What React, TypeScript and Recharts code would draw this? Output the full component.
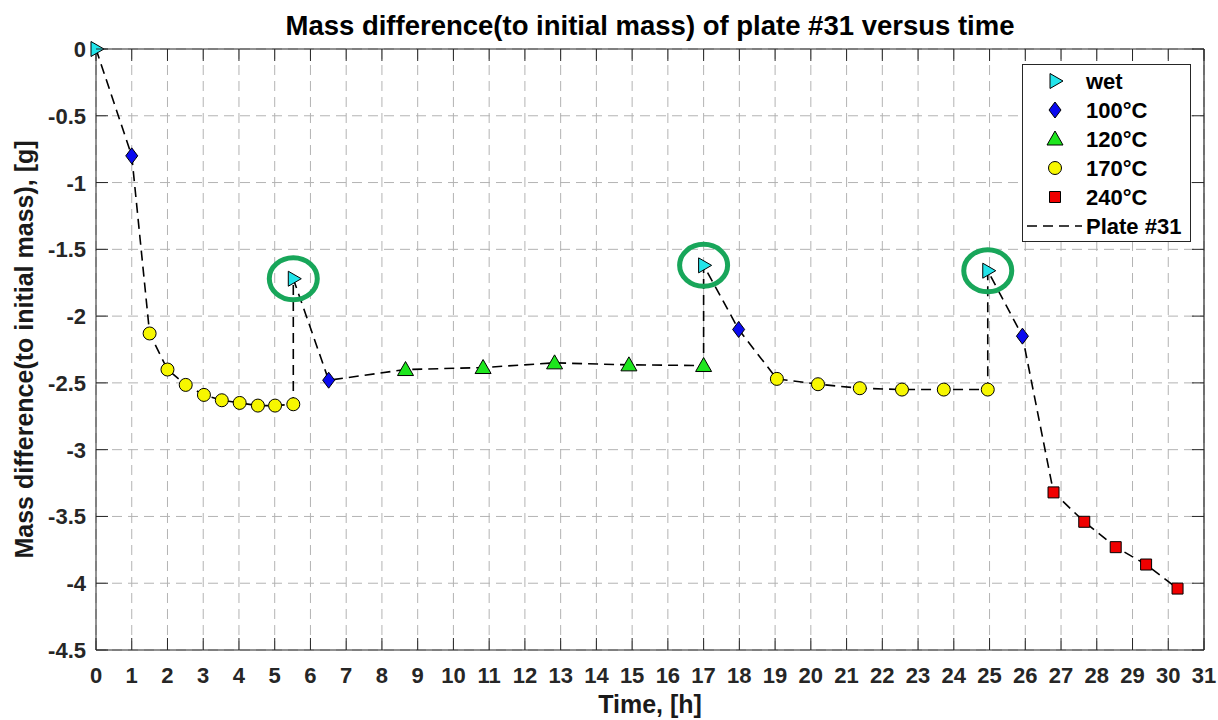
import React from 'react';
import { ComposedChart, Line, Scatter, XAxis, YAxis, CartesianGrid, Legend, ReferenceLine, ReferenceDot } from 'recharts';

// measured mass difference [g] vs time [h], grouped by drying state
const wetTime = [0, 5.52, 17.0, 24.95];
const wetMass = [0, -1.72, -1.62, -1.66];

const t100Time = [1.0, 6.51, 17.98, 25.92];
const t100Mass = [-0.8, -2.48, -2.1, -2.15];

const t120Time = [8.66, 10.83, 12.83, 14.91, 17.0];
const t120Mass = [-2.4, -2.385, -2.35, -2.365, -2.37];

const t170Time = [1.5, 2.0, 2.51, 3.02, 3.52, 4.02, 4.53, 5.01, 5.52, 19.05, 20.2, 21.37, 22.55, 23.72, 24.95];
const t170Mass = [-2.13, -2.4, -2.515, -2.59, -2.63, -2.65, -2.67, -2.67, -2.66, -2.47, -2.51, -2.54, -2.55, -2.55, -2.55];

const t240Time = [26.79, 27.65, 28.53, 29.38, 30.26];
const t240Mass = [-3.32, -3.54, -3.73, -3.86, -4.04];

const xTicks = [0, 1, 2, 3, 4, 5, 6, 7, 8, 9, 10, 11, 12, 13, 14, 15, 16, 17, 18, 19, 20, 21, 22, 23, 24, 25, 26, 27, 28, 29, 30, 31];
const yTicks = [0, -0.5, -1, -1.5, -2, -2.5, -3, -3.5, -4, -4.5];
const xDomain = [0, 31];
const yDomain = [-4.5, 0];

const FONT = '"Liberation Sans", Arial, Helvetica, sans-serif';
const AXIS = '#262626';
const TICK_LEN = 12;

type Shape = 'right' | 'diamond' | 'up' | 'circle' | 'square';

const series: { key: string; label: string; time: number[]; mass: number[]; color: string; shape: Shape }[] = [
  { key: 'wet', label: 'wet', time: wetTime, mass: wetMass, color: '#22e4ea', shape: 'right' },
  { key: 't100', label: '100°C', time: t100Time, mass: t100Mass, color: '#0a0af0', shape: 'diamond' },
  { key: 't120', label: '120°C', time: t120Time, mass: t120Mass, color: '#1ee61e', shape: 'up' },
  { key: 't170', label: '170°C', time: t170Time, mass: t170Mass, color: '#f7f700', shape: 'circle' },
  { key: 't240', label: '240°C', time: t240Time, mass: t240Mass, color: '#f00000', shape: 'square' },
];

const toPoints = (time: number[], mass: number[]) => time.map((t, i) => ({ t, m: mass[i] }));

// measurement order: at equal times the wet reading comes after the dried one
const linePoints = series
  .flatMap(s => s.time.map((t, i) => ({ t, m: s.mass[i], order: s.key === 'wet' ? 1 : 0 })))
  .sort((a, b) => a.t - b.t || a.order - b.order);

// re-wetted points are circled in the figure
const circled = toPoints(wetTime.slice(1), wetMass.slice(1));

const markerPath = (shape: Shape, cx: number, cy: number) => {
  switch (shape) {
    case 'right':
      return `M${cx - 5},${cy - 7.5}L${cx + 8},${cy}L${cx - 5},${cy + 7.5}Z`;
    case 'diamond':
      return `M${cx},${cy - 8}L${cx + 6},${cy}L${cx},${cy + 8}L${cx - 6},${cy}Z`;
    case 'up':
      return `M${cx - 8},${cy + 6}L${cx},${cy - 8}L${cx + 8},${cy + 6}Z`;
    case 'square':
      return `M${cx - 5.5},${cy - 5.5}h11v11h-11Z`;
    default:
      return '';
  }
};

const Marker = ({ cx, cy, shape, color }: { cx: number; cy: number; shape: Shape; color: string }) =>
  shape === 'circle' ? (
    <circle cx={cx} cy={cy} r={6.5} fill={color} stroke="#000" strokeWidth={1} />
  ) : (
    <path d={markerPath(shape, cx, cy)} fill={color} stroke="#000" strokeWidth={1} />
  );

const BottomTick = ({ x, y, payload }: any) => (
  <g>
    <line x1={x} y1={y} x2={x} y2={y - TICK_LEN} stroke={AXIS} strokeWidth={1} />
    <text x={x} y={y + 33} textAnchor="middle" fill={AXIS} fontSize={22} fontWeight="bold" fontFamily={FONT}>
      {payload.value}
    </text>
  </g>
);

const LeftTick = ({ x, y, payload }: any) => (
  <g>
    <line x1={x} y1={y} x2={x + TICK_LEN} y2={y} stroke={AXIS} strokeWidth={1} />
    <text x={x - 10} y={y + 8} textAnchor="end" fill={AXIS} fontSize={22} fontWeight="bold" fontFamily={FONT}>
      {payload.value}
    </text>
  </g>
);

const LegendBox = () => (
  <svg width={170} height={179} style={{ display: 'block' }}>
    <rect x={0.5} y={0.5} width={168} height={177} fill="#fff" stroke={AXIS} strokeWidth={1} />
    {series.map((s, i) => (
      <g key={s.key}>
        <Marker cx={33} cy={17 + i * 29} shape={s.shape} color={s.color} />
        <text x={64} y={25 + i * 29} fontSize={22} fontWeight="bold" fontFamily={FONT} fill="#000">
          {s.label}
        </text>
      </g>
    ))}
    <line x1={5} y1={162} x2={60} y2={162} stroke="#000" strokeWidth={1.6} strokeDasharray="10 6" />
    <text x={64} y={170} fontSize={22} fontWeight="bold" fontFamily={FONT} fill="#000">
      Plate #31
    </text>
  </svg>
);

export default function App() {
  return (
    <div style={{ position: 'relative', width: 1218, height: 720, background: '#fff' }}>
      <style>{'body{margin:0;background:#fff}'}</style>
      <div
        style={{
          position: 'absolute',
          top: 11,
          left: 96,
          width: 1108,
          textAlign: 'center',
          fontFamily: FONT,
          fontSize: 27.5,
          fontWeight: 'bold',
          lineHeight: '30px',
          color: '#000',
          zIndex: 2,
        }}
      >
        Mass difference(to initial mass) of plate #31 versus time
      </div>
      <ComposedChart width={1218} height={720} data={linePoints} margin={{ top: 49, right: 14, bottom: 0, left: 0 }}>
        <CartesianGrid stroke="#b3b3b3" strokeDasharray="10 6" strokeWidth={1} />
        <XAxis
          dataKey="t"
          type="number"
          domain={xDomain}
          ticks={xTicks}
          interval={0}
          height={70}
          stroke={AXIS}
          tickLine={false}
          tickSize={0}
          tickMargin={0}
          tick={<BottomTick />}
          label={{
            content: ({ viewBox }: any) => (
              <text x={viewBox.x + viewBox.width / 2} y={viewBox.y + 63} textAnchor="middle" fontSize={25} fontWeight="bold" fontFamily={FONT} fill="#1a1a1a">
                Time, [h]
              </text>
            ),
          }}
        />
        <YAxis
          dataKey="m"
          type="number"
          domain={yDomain}
          ticks={yTicks}
          interval={0}
          width={96}
          stroke={AXIS}
          tickLine={false}
          tickSize={0}
          tickMargin={0}
          tick={<LeftTick />}
          label={{
            content: ({ viewBox }: any) => {
              const cx = viewBox.x + 33;
              const cy = viewBox.y + viewBox.height / 2;
              return (
                <text x={cx} y={cy} transform={`rotate(-90 ${cx} ${cy})`} textAnchor="middle" fontSize={25} fontWeight="bold" fontFamily={FONT} fill="#1a1a1a">
                  Mass difference(to initial mass), [g]
                </text>
              );
            },
          }}
        />
        {/* top and right edges of the box, with inward ticks */}
        <ReferenceLine y={yDomain[1]} stroke={AXIS} strokeWidth={1.2} ifOverflow="visible" />
        <ReferenceLine x={xDomain[1]} stroke={AXIS} strokeWidth={1.2} ifOverflow="visible" />
        {xTicks.map(t => (
          <ReferenceDot
            key={`top-${t}`}
            x={t}
            y={yDomain[1]}
            ifOverflow="visible"
            shape={(p: any) => <line x1={p.cx} y1={p.cy} x2={p.cx} y2={p.cy + TICK_LEN} stroke={AXIS} strokeWidth={1} />}
          />
        ))}
        {yTicks.map(v => (
          <ReferenceDot
            key={`right-${v}`}
            x={xDomain[1]}
            y={v}
            ifOverflow="visible"
            shape={(p: any) => <line x1={p.cx} y1={p.cy} x2={p.cx - TICK_LEN} y2={p.cy} stroke={AXIS} strokeWidth={1} />}
          />
        ))}
        <Line
          dataKey="m"
          type="linear"
          stroke="#000"
          strokeWidth={1.6}
          strokeDasharray="10 6"
          dot={false}
          activeDot={false}
          isAnimationActive={false}
        />
        {series.map(s => (
          <Scatter
            key={s.key}
            name={s.label}
            data={toPoints(s.time, s.mass)}
            dataKey="m"
            isAnimationActive={false}
            shape={(p: any) => <Marker cx={p.cx} cy={p.cy} shape={s.shape} color={s.color} />}
          />
        ))}
        <Scatter
          data={circled}
          dataKey="m"
          isAnimationActive={false}
          legendType="none"
          shape={(p: any) => <ellipse cx={p.cx} cy={p.cy} rx={24} ry={21} fill="none" stroke="#18a65a" strokeWidth={5} />}
        />
        <Legend
          layout="vertical"
          align="center"
          verticalAlign="middle"
          content={() => <LegendBox />}
          wrapperStyle={{ position: 'absolute', left: 1022, top: 64, width: 170, height: 179 }}
        />
      </ComposedChart>
    </div>
  );
}
